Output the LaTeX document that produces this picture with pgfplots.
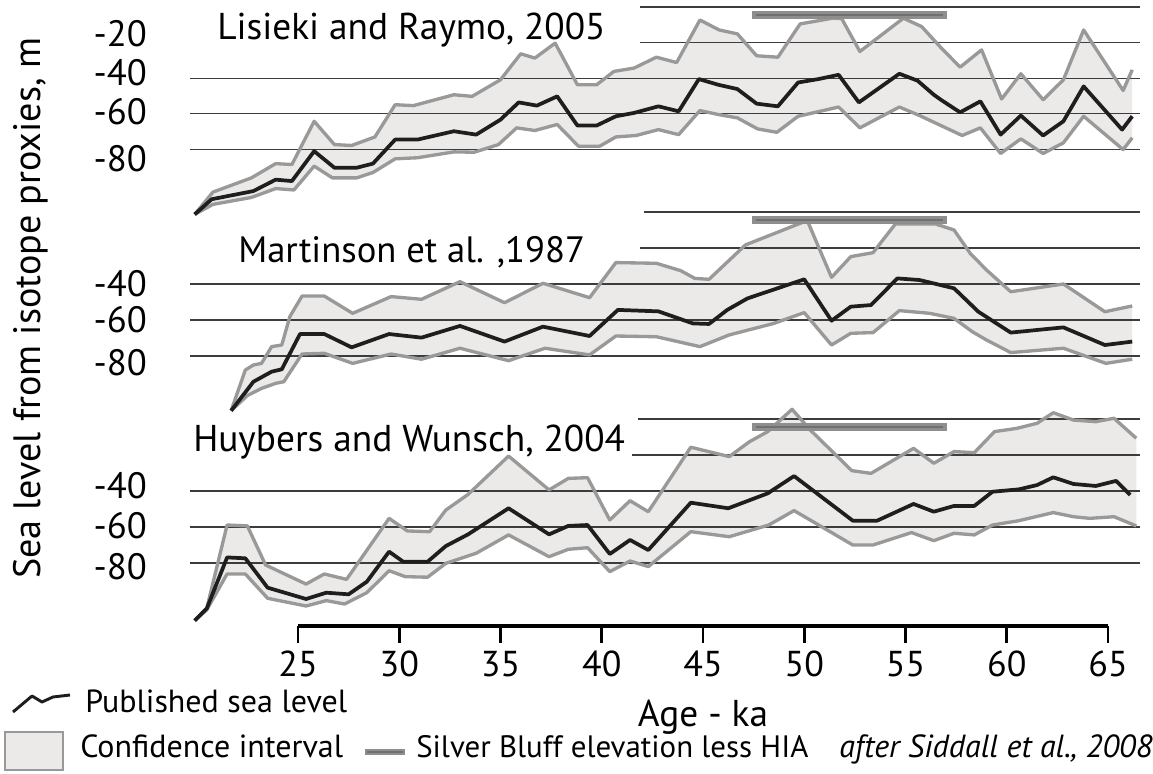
\documentclass[border=0pt]{standalone}
\usepackage{pgfplots}
\pgfplotsset{compat=1.18}
\usepackage{pgfplotstable}
\usepackage{fontspec}
\setmainfont{PT Sans}

\definecolor{ci}{HTML}{ECE9E9}
\definecolor{bnd}{HTML}{999999}
\definecolor{ctr}{HTML}{1E1E1E}
\definecolor{grd}{HTML}{3C3C3C}
\definecolor{sbo}{HTML}{8E8E8E}
\definecolor{sbi}{HTML}{707070}

% ---------- Lisiecki and Raymo 2005 ----------
\pgfplotstableread{
x y
19.9 -116.5
20.74 -108
22.8 -103.4
23.9 -97
24.7 -97.8
25.8 -81
26.8 -90.3
27.9 -90.3
28.7 -88
29.8 -74.5
30.9 -74.5
32.7 -69.8
33.8 -71.7
35.0 -63.3
35.9 -53.6
36.8 -55.4
37.8 -50.2
38.8 -66.6
39.75 -66.6
40.7 -61.4
41.6 -59.5
42.8 -55.8
43.8 -58.6
44.8 -40.5
45.76 -43.7
46.7 -46.1
47.65 -54.3
48.7 -55.8
49.7 -42.4
50.7 -40.5
51.7 -38.1
52.7 -53.6
54.7 -37.5
55.6 -41.4
56.4 -49.3
56.8 -52.5
57.7 -59.2
58.7 -53
59.7 -71.7
60.7 -61
61.8 -72.2
62.8 -64.2
63.8 -44.6
65.7 -68.9
66.2 -61.4
}\LRc
\pgfplotstableread{
x y
19.9 -116.5
20.8 -104
22.7 -96
23.9 -88
24.7 -88.5
25.8 -64.2
26.8 -77.3
27.65 -77.8
28.8 -73
29.8 -54.9
30.7 -55.4
32.7 -49.3
33.6 -50.2
35.0 -40.9
36.0 -26.3
36.7 -28.7
37.7 -20.3
38.8 -43.7
39.75 -43.7
40.6 -36.2
41.6 -34.3
42.7 -28.2
43.7 -31.2
44.85 -7.3
45.8 -12.9
46.7 -15.1
47.65 -27.4
48.7 -28.2
49.8 -9.5
51.4 -6.3
51.85 -6.5
52.75 -25
54.9 -6.3
55.8 -11
56.7 -22.2
57.7 -33.8
58.76 -24.1
59.75 -51.7
60.7 -37.5
61.8 -52.1
62.8 -40.9
63.8 -12.9
65.75 -46.9
66.2 -35.3
}\LRu
\pgfplotstableread{
x y
19.9 -116.5
20.8 -110.9
22.7 -107
23.9 -102
24.8 -102.8
25.8 -89.4
26.7 -96
27.9 -96
28.7 -93
29.8 -85.3
30.9 -84.7
32.7 -81.4
33.7 -81.6
34.9 -77.3
35.8 -67.9
36.7 -69.4
37.8 -66
38.85 -78.2
39.9 -78.2
40.7 -73
41.7 -72.2
42.8 -68.9
43.8 -71.7
44.85 -58.2
45.8 -60.5
46.7 -62.3
47.7 -68.5
48.65 -70.4
49.7 -61.4
51.7 -56.2
52.75 -67.9
54.7 -56.2
55.7 -61
57.8 -72.2
58.7 -67.9
59.7 -82.3
60.7 -74.1
61.8 -82.3
62.8 -76.3
63.8 -61.4
65.75 -80.1
66.2 -73.5
}\LRl
% confidence band outline: upper bound, then lower bound reversed
\pgfplotstableread{
x y
19.9 -116.5
20.8 -104
22.7 -96
23.9 -88
24.7 -88.5
25.8 -64.2
26.8 -77.3
27.65 -77.8
28.8 -73
29.8 -54.9
30.7 -55.4
32.7 -49.3
33.6 -50.2
35.0 -40.9
36.0 -26.3
36.7 -28.7
37.7 -20.3
38.8 -43.7
39.75 -43.7
40.6 -36.2
41.6 -34.3
42.7 -28.2
43.7 -31.2
44.85 -7.3
45.8 -12.9
46.7 -15.1
47.65 -27.4
48.7 -28.2
49.8 -9.5
51.4 -6.3
51.85 -6.5
52.75 -25
54.9 -6.3
55.8 -11
56.7 -22.2
57.7 -33.8
58.76 -24.1
59.75 -51.7
60.7 -37.5
61.8 -52.1
62.8 -40.9
63.8 -12.9
65.75 -46.9
66.2 -35.3
66.2 -73.5
65.75 -80.1
63.8 -61.4
62.8 -76.3
61.8 -82.3
60.7 -74.1
59.7 -82.3
58.7 -67.9
57.8 -72.2
55.7 -61
54.7 -56.2
52.75 -67.9
51.7 -56.2
49.7 -61.4
48.65 -70.4
47.7 -68.5
46.7 -62.3
45.8 -60.5
44.85 -58.2
43.8 -71.7
42.8 -68.9
41.7 -72.2
40.7 -73
39.9 -78.2
38.85 -78.2
37.8 -66
36.7 -69.4
35.8 -67.9
34.9 -77.3
33.7 -81.6
32.7 -81.4
30.9 -84.7
29.8 -85.3
28.7 -93
27.9 -96
26.7 -96
25.8 -89.4
24.8 -102.8
23.9 -102
22.7 -107
20.8 -110.9
19.9 -116.5
}\LRp

% ---------- Martinson et al. 1987 ----------
\pgfplotstableread{
x y
21.7 -110.4
22.8 -94.3
23.7 -88.7
24.2 -87.4
25.1 -67.8
26.3 -67.8
27.65 -75.2
29.5 -67.8
31.1 -69.8
33.0 -63.3
35.2 -72
37.1 -63.7
39.4 -68.9
40.8 -54.4
42.8 -55.2
44.5 -61.9
45.3 -62.2
46.2 -54.4
47.2 -48
50.0 -37.4
51.35 -60.4
52.3 -52.6
53.3 -51.7
54.6 -36.9
55.7 -37.8
57.4 -42.4
58.6 -55.4
60.2 -67
62.8 -64.1
64.85 -73.9
66.2 -72
}\MAc
\pgfplotstableread{
x y
21.7 -110.4
22.4 -87.8
22.8 -85
23.2 -84.1
23.7 -74.8
24.2 -73.9
24.6 -58.1
25.2 -46.7
26.3 -46.7
27.7 -56.3
29.6 -47
31.1 -48.5
33.0 -38.7
35.2 -50.4
37.1 -39.6
39.4 -47.6
40.7 -28.1
42.7 -28.5
43.9 -32.6
44.6 -36.9
45.3 -37.4
47.1 -18.3
50.0 -5.4
50.2 -6
51.35 -36.3
52.3 -24.8
53.4 -22.6
54.5 -6.7
56.5 -6.7
57.4 -10
58.2 -23
59.0 -32.2
60.2 -44.3
62.8 -40
64.85 -55.4
66.2 -52.2
}\MAu
\pgfplotstableread{
x y
21.7 -110.4
22.5 -102
23.2 -98
23.9 -95.2
24.3 -94.3
25.2 -78.9
26.3 -78.5
27.7 -84.1
29.6 -78.9
31.1 -81.8
33.0 -75.7
35.4 -82.6
37.2 -75.7
39.4 -79.4
40.7 -68.9
42.7 -69.3
44.85 -74.8
46.3 -68.3
48.5 -61.9
50.0 -55.9
51.35 -73.9
52.3 -67.4
53.4 -67
54.7 -54.8
56.2 -56.3
57.4 -59.1
58.3 -66.5
59.0 -71.1
60.2 -78.1
62.8 -75.7
64.9 -84.1
66.2 -81.8
}\MAl
\pgfplotstableread{
x y
21.7 -110.4
22.4 -87.8
22.8 -85
23.2 -84.1
23.7 -74.8
24.2 -73.9
24.6 -58.1
25.2 -46.7
26.3 -46.7
27.7 -56.3
29.6 -47
31.1 -48.5
33.0 -38.7
35.2 -50.4
37.1 -39.6
39.4 -47.6
40.7 -28.1
42.7 -28.5
43.9 -32.6
44.6 -36.9
45.3 -37.4
47.1 -18.3
50.0 -5.4
50.2 -6
51.35 -36.3
52.3 -24.8
53.4 -22.6
54.5 -6.7
56.5 -6.7
57.4 -10
58.2 -23
59.0 -32.2
60.2 -44.3
62.8 -40
64.85 -55.4
66.2 -52.2
66.2 -81.8
64.9 -84.1
62.8 -75.7
60.2 -78.1
59.0 -71.1
58.3 -66.5
57.4 -59.1
56.2 -56.3
54.7 -54.8
53.4 -67
52.3 -67.4
51.35 -73.9
50.0 -55.9
48.5 -61.9
46.3 -68.3
44.85 -74.8
42.7 -69.3
40.7 -68.9
39.4 -79.4
37.2 -75.7
35.4 -82.6
33.0 -75.7
31.1 -81.8
29.6 -78.9
27.7 -84.1
26.3 -78.5
25.2 -78.9
24.3 -94.3
23.9 -95.2
23.2 -98
22.5 -102
21.7 -110.4
}\MAp

% ---------- Huybers and Wunsch 2004 ----------
\pgfplotstableread{
x y
19.9 -112
20.5 -105.2
21.5 -76.9
22.4 -77.4
23.5 -93.7
25.4 -100
26.4 -96.5
27.5 -97.4
28.4 -90.4
29.5 -73.7
30.2 -79.3
31.4 -79.3
32.3 -70.6
33.4 -64.1
35.4 -49.6
37.4 -64.1
38.35 -59.4
39.3 -58.9
40.4 -75
41.4 -67.2
42.3 -72.8
44.4 -46.5
46.25 -49.6
48.2 -41.3
49.5 -31.7
52.4 -56.5
53.6 -56.5
55.4 -47.2
56.4 -51.5
57.4 -48.3
58.4 -48.3
59.3 -40.4
60.6 -39.1
61.5 -36.7
62.3 -32.4
63.3 -36.1
64.4 -37.2
65.4 -34.4
66.1 -42.2
}\HWc
\pgfplotstableread{
x y
19.9 -112
20.5 -105
21.5 -58.9
22.5 -59.4
23.4 -81.1
25.4 -91.7
26.3 -86.1
27.4 -89.1
29.5 -55.2
30.4 -62.2
31.5 -62.6
32.3 -50.6
33.4 -41.9
35.4 -20.6
37.4 -39.4
38.35 -33
39.3 -32.6
40.4 -56.1
41.4 -45.4
42.3 -51.5
44.4 -15.7
46.3 -20.9
47.3 -12.6
48.2 -7
49.4 5.4
50.3 -6.1
52.35 -28.7
53.3 -30.2
55.4 -16.3
56.4 -24.6
57.4 -18.1
58.4 -18.7
59.4 -7
60.5 -5.2
61.5 -2.4
62.3 3.5
63.3 -0.6
64.4 -1.5
65.3 0.4
66.4 -10.7
}\HWu
\pgfplotstableread{
x y
19.9 -112
20.5 -106
21.5 -86.1
22.4 -86.1
23.5 -99.6
25.4 -103.9
26.4 -100.9
27.3 -102.8
28.4 -96.5
29.5 -84.3
30.3 -87.6
31.4 -87.9
32.3 -80.2
33.8 -74.6
35.4 -64.4
37.4 -76.5
38.35 -72.4
39.3 -71.5
40.4 -84.8
41.4 -78.9
42.3 -82
44.4 -62.6
46.3 -65.4
48.25 -58.9
49.5 -50.9
52.4 -70
53.4 -70
55.3 -63.1
56.4 -67.6
57.4 -63.5
58.4 -64.4
59.3 -58.9
60.6 -56.5
62.3 -52
63.3 -54.3
64.1 -55.2
65.3 -54.3
66.4 -59.4
}\HWl
\pgfplotstableread{
x y
19.9 -112
20.5 -105
21.5 -58.9
22.5 -59.4
23.4 -81.1
25.4 -91.7
26.3 -86.1
27.4 -89.1
29.5 -55.2
30.4 -62.2
31.5 -62.6
32.3 -50.6
33.4 -41.9
35.4 -20.6
37.4 -39.4
38.35 -33
39.3 -32.6
40.4 -56.1
41.4 -45.4
42.3 -51.5
44.4 -15.7
46.3 -20.9
47.3 -12.6
48.2 -7
49.4 5.4
50.3 -6.1
52.35 -28.7
53.3 -30.2
55.4 -16.3
56.4 -24.6
57.4 -18.1
58.4 -18.7
59.4 -7
60.5 -5.2
61.5 -2.4
62.3 3.5
63.3 -0.6
64.4 -1.5
65.3 0.4
66.4 -10.7
66.4 -59.4
65.3 -54.3
64.1 -55.2
63.3 -54.3
62.3 -52
60.6 -56.5
59.3 -58.9
58.4 -64.4
57.4 -63.5
56.4 -67.6
55.3 -63.1
53.4 -70
52.4 -70
49.5 -50.9
48.25 -58.9
46.3 -65.4
44.4 -62.6
42.3 -82
41.4 -78.9
40.4 -84.8
39.3 -71.5
38.35 -72.4
37.4 -76.5
35.4 -64.4
33.8 -74.6
32.3 -80.2
31.4 -87.9
30.3 -87.6
29.5 -84.3
28.4 -96.5
27.3 -102.8
26.4 -100.9
25.4 -103.9
23.5 -99.6
22.4 -86.1
21.5 -86.1
20.5 -106
19.9 -112
}\HWp

\tikzset{gline/.style={grd, line width=1pt}}
\pgfplotsset{
  panel/.style={
    scale only axis, width=715.3pt, xmin=19.5, xmax=66.6,
    anchor=south west, clip=false,
    axis line style={draw=none}, tick style={draw=none},
    major tick length=0pt, xtick=\empty,
    yticklabel style={anchor=east, inner sep=0pt, xshift=-29.7pt,
      font=\fontsize{27.5pt}{30pt}\selectfont},
  },
  band/.style={fill=ci, draw=none, no marks},
  bound/.style={bnd, line width=2.5pt, line join=round, no marks},
  central/.style={ctr, line width=2.8pt, line join=round, no marks},
  sbar/.style={sbo, line width=5.5pt, no marks},
  sbarin/.style={sbi, line width=1.6pt, no marks},
}

\begin{document}
\begin{tikzpicture}
\useasboundingbox (0pt,0pt) rectangle (864.75pt,580.5pt);

% ---- Panel 1 ----
\begin{axis}[panel, at={(139.95pt,415.05pt)}, ymin=-120, ymax=3, height=164.2pt,
  ytick={-15,-37,-59,-85}, yticklabels={-20,-40,-60,-80}]
\addplot[band] table {\LRp};
\draw[gline] (axis cs:41.9,0) -- (axis cs:66.6,0);
\draw[gline] (axis cs:41.9,-20) -- (axis cs:66.6,-20);
\draw[gline] (axis cs:19.67,-40) -- (axis cs:66.6,-40);
\draw[gline] (axis cs:19.67,-60) -- (axis cs:66.6,-60);
\draw[gline] (axis cs:19.67,-80) -- (axis cs:66.6,-80);
\addplot[bound] table {\LRu};
\addplot[bound] table {\LRl};
\addplot[central] table {\LRc};
\addplot[sbar] coordinates {(47.4,-4.5) (57.05,-4.5)};
\addplot[sbarin] coordinates {(47.6,-4.5) (56.85,-4.5)};
\end{axis}

% ---- Panel 2 ----
\begin{axis}[panel, at={(139.95pt,259.5pt)}, ymin=-120, ymax=3, height=166.05pt,
  ytick={-40,-60,-83.5}, yticklabels={-40,-60,-80}]
\addplot[band] table {\MAp};
\draw[gline] (axis cs:42.1,0) -- (axis cs:66.6,0);
\draw[gline] (axis cs:41.9,-20) -- (axis cs:66.6,-20);
\draw[gline] (axis cs:19.67,-40) -- (axis cs:66.6,-40);
\draw[gline] (axis cs:19.67,-60) -- (axis cs:66.6,-60);
\draw[gline] (axis cs:19.67,-80) -- (axis cs:66.6,-80);
\addplot[bound] table {\MAu};
\addplot[bound] table {\MAl};
\addplot[central] table {\MAc};
\addplot[sbar] coordinates {(47.4,-4.5) (57.05,-4.5)};
\addplot[sbarin] coordinates {(47.6,-4.5) (56.85,-4.5)};
\end{axis}

% ---- Panel 3 ----
\begin{axis}[panel, at={(139.95pt,106.95pt)}, ymin=-118, ymax=8, height=170.1pt,
  ytick={-37,-59,-82}, yticklabels={-40,-60,-80}]
\addplot[band] table {\HWp};
\draw[gline] (axis cs:41.8,0) -- (axis cs:66.6,0);
\draw[gline] (axis cs:41.5,-20) -- (axis cs:66.6,-20);
\draw[gline] (axis cs:19.67,-40) -- (axis cs:66.6,-40);
\draw[gline] (axis cs:19.67,-60) -- (axis cs:66.6,-60);
\draw[gline] (axis cs:19.67,-80) -- (axis cs:66.6,-80);
\addplot[bound] table {\HWu};
\addplot[bound] table {\HWl};
\addplot[central] table {\HWc};
\addplot[sbar] coordinates {(47.4,-4.5) (57.05,-4.5)};
\addplot[sbarin] coordinates {(47.6,-4.5) (56.85,-4.5)};
\end{axis}

% ---- x axis ----
\begin{axis}[scale only axis, width=607.5pt, height=10pt, at={(223.5pt,111pt)},
  anchor=south west, xmin=25, xmax=65, ymin=0, ymax=1,
  axis x line*=bottom, axis y line=none,
  x axis line style={line width=2.5pt, -},
  xtick={25,30,...,65}, xticklabels={25,30,35,40,45,50,55,60,65},
  xtick align=outside, major tick length=12.75pt,
  xtick style={line width=2.2pt, black},
  xticklabel style={font=\fontsize{27pt}{30pt}\selectfont, anchor=north, inner sep=0pt, yshift=-6pt},
  xlabel={Age - ka},
  xlabel style={at={(axis description cs:0.5,0)}, anchor=north, inner sep=0pt,
    yshift=-55pt, font=\fontsize{28pt}{30pt}\selectfont}]
\addplot[draw=none] coordinates {(25,0) (65,0)};
\end{axis}

% ---- texts ----
\node[anchor=base west, inner sep=0pt, font=\fontsize{28pt}{32pt}\selectfont] at (162.75pt,550.5pt) {Lisieki and Raymo, 2005};
\node[anchor=base west, inner sep=0pt, font=\fontsize{27.5pt}{32pt}\selectfont] at (178.5pt,383.5pt) {Martinson et al. ,1987};
\node[anchor=base west, inner sep=0pt, font=\fontsize{28pt}{32pt}\selectfont] at (144.75pt,241.7pt) {Huybers and Wunsch, 2004};
\node[rotate=90, anchor=base, inner sep=0pt, font=\fontsize{28.6pt}{32pt}\selectfont] at (30pt,349.5pt) {Sea level from isotope proxies, m};

% ---- legend ----
\draw[ctr, line width=2.2pt, line join=round] (9.75pt,46.5pt) -- (24pt,58.5pt) -- (31.5pt,54pt) -- (39.75pt,57.75pt) -- (52.5pt,59.25pt);
\node[anchor=base west, inner sep=0pt, font=\fontsize{24pt}{28pt}\selectfont] at (63.75pt,45.75pt) {Published sea level};
\draw[bnd, line width=2pt, fill=ci] (3.75pt,31.5pt) rectangle (47.25pt,3pt);
\node[anchor=base west, inner sep=0pt, font=\fontsize{24pt}{28pt}\selectfont] at (60pt,12pt) {Confidence interval};
\draw[sbo, line width=5pt] (273.75pt,16.5pt) -- (303.75pt,16.5pt);
\draw[sbi, line width=1.5pt] (275.25pt,16.5pt) -- (302.25pt,16.5pt);
\node[anchor=base west, inner sep=0pt, font=\fontsize{23.2pt}{28pt}\selectfont] at (312pt,12pt) {Silver Bluff elevation less HIA};
\node[anchor=base west, inner sep=0pt, font=\fontsize{24pt}{28pt}\itshape\selectfont] at (629.25pt,12pt) {after Siddall et al., 2008};
\end{tikzpicture}
\end{document}
